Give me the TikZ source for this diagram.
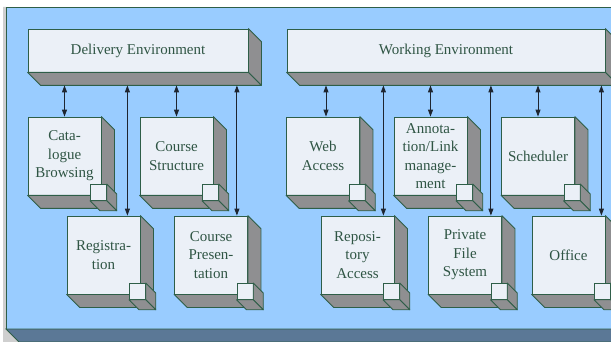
\documentclass[tikz,border=0pt]{standalone}
\usepackage{fontspec}
\setmainfont{Liberation Serif}
\usetikzlibrary{arrows.meta,calc}

\definecolor{bgblue}{HTML}{99CCFF}
\definecolor{frontcol}{HTML}{EBF0F7}
\definecolor{facecol}{HTML}{8F8F91}
\definecolor{edgecol}{HTML}{2E5E48}
\definecolor{textcol}{HTML}{2F5544}
\definecolor{slate}{HTML}{5B7896}
\definecolor{sidegray}{HTML}{CFCFCF}
\definecolor{arrowcol}{HTML}{1E2530}

\newcommand{\boxfaces}[2]{%
        \filldraw[face] (#1.north east) -- ++(#2,#2) -- ([shift={(#2,#2)}]#1.south east) -- (#1.south east) -- cycle;
        \filldraw[face] (#1.south west) -- ++(#2,#2) -- ([shift={(#2,#2)}]#1.south east) -- (#1.south east) -- cycle;
}
\newcommand{\component}[3]{%
        \node[front] (#1) at (#2) {#3};
        \boxfaces{#1}{13}
        \node[cube] (#1c) at ([shift={(-3,-3)}]#1.south east) {};
        \boxfaces{#1c}{10}
}

\begin{document}
\begin{tikzpicture}[x=1pt,y=-1pt,
        face/.style={fill=facecol,draw=edgecol,line width=0.8pt,line join=round},
        front/.style={fill=frontcol,draw=edgecol,line width=0.8pt,text=textcol,align=center,
                inner sep=0pt,minimum width=73pt,minimum height=78pt,font=\fontsize{15}{18.5}\selectfont},
        env/.style={front,minimum height=43pt},
        cube/.style={fill=frontcol,draw=edgecol,line width=0.8pt,inner sep=0pt,minimum size=16pt},
        link/.style={{Triangle[width=5pt,length=7pt]}-{Triangle[width=5pt,length=7pt]},line width=0.9pt,draw=arrowcol}]
        \useasboundingbox (0,0) rectangle (611,342);
        \clip (0,0) rectangle (611,342);

        \fill[sidegray] (3,7) -- (6,7) -- (6,329) -- (19,342) -- (3,342) -- cycle;
        \draw[fill=bgblue,draw=edgecol,line width=0.8pt] (6,7) rectangle (630,329);
        \draw[fill=slate,draw=edgecol,line width=0.8pt] (6,329) -- (19,342) -- (630,342) -- (630,329) -- cycle;

        \node[env,minimum width=220pt] (deliv) at (138,50.5) {Delivery Environment};
        \boxfaces{deliv}{13}
        \node[env,minimum width=318pt] (work) at (446,50.5) {Working Environment};
        \boxfaces{work}{13}

        \component{catal}{64.5,156}{Cata-\\logue\\Browsing}
        \component{cstruct}{176.5,156}{Course\\Structure}
        \component{regist}{103.5,255}{Registra-\\tion}
        \component{cpres}{211,255}{Course\\Presen-\\tation}

        \component{web}{323,156}{Web\\Access}
        \component{annot}{430.5,156}{Annota-\\tion/Link\\manage-\\ment}
        \component{sched}{538,156}{Scheduler}
        \component{repo}{357.5,255}{Reposi-\\tory\\Access}
        \component{priv}{465,255}{Private\\File\\System}
        \component{office}{568.5,255}{Office}

        \coordinate (delivbase) at ($(deliv.south)+(0,13)$);
        \coordinate (workbase) at ($(work.south)+(0,13)$);

        \draw[link] (catal.north |- delivbase) -- (catal.north);
        \draw[link] (cstruct.north |- delivbase) -- (cstruct.north);
        \draw[link] ([xshift=-13pt]regist.north east |- delivbase) -- ([xshift=-13pt]regist.north east);
        \draw[link] ([xshift=-11pt]cpres.north east |- delivbase) -- ([xshift=-11pt]cpres.north east);

        \draw[link] ([xshift=3pt]web.north |- workbase) -- ([xshift=3pt]web.north);
        \draw[link] (annot.north |- workbase) -- (annot.north);
        \draw[link] (sched.north |- workbase) -- (sched.north);
        \draw[link] ([xshift=-11pt]repo.north east |- workbase) -- ([xshift=-11pt]repo.north east);
        \draw[link] ([xshift=-11pt]priv.north east |- workbase) -- ([xshift=-11pt]priv.north east);
        \draw[link] ([xshift=-4pt]office.north east |- workbase) -- ([xshift=-4pt]office.north east);

\end{tikzpicture}
\end{document}
